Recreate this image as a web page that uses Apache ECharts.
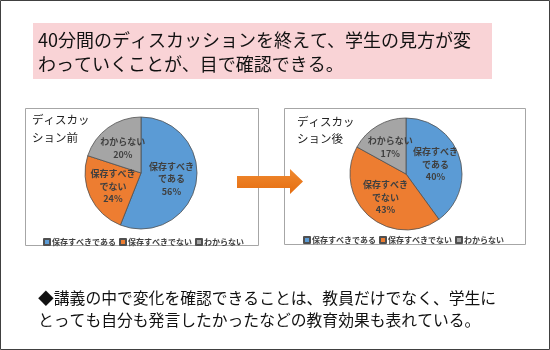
<!DOCTYPE html>
<html>
<head>
<meta charset="utf-8">
<script src="https://cdn.jsdelivr.net/npm/echarts@6/dist/echarts.min.js"></script>
<style>
html,body{margin:0;padding:0;background:#fff;}
#c{width:550px;height:350px;}
</style>
</head>
<body>
<div id="c"></div>
<script>
const categories = ['保存すべきである', '保存すべきでない', 'わからない'];
const sliceLabels = ['保存すべき\nである', '保存すべき\nでない', 'わからない'];
const beforeValues = [56, 24, 20];
const afterValues = [40, 43, 17];
const beforeTitle = 'ディスカッ\nション前';
const afterTitle = 'ディスカッ\nション後';
const headline = '40分間のディスカッションを終えて、学生の見方が変\nわっていくことが、目で確認できる。';
const footnote = '◆講義の中で変化を確認できることは、教員だけでなく、学生に\nとっても自分も発言したかったなどの教育効果も表れている。';
const colors = ['#5b9bd5', '#ed7d31', '#a5a5a5'];

const FONT = '"Noto Sans CJK JP", "Noto Sans", sans-serif';

function pieData(values) {
  return categories.map((c, i) => ({ name: c, value: values[i] }));
}

function pieSeries(values, center) {
  return {
    type: 'pie',
    center: center,
    radius: 56,
    startAngle: 90,
    clockwise: true,
    data: pieData(values),
    itemStyle: { borderColor: '#505050', borderWidth: 0.8 },
    label: {
      show: true,
      position: 'inside',
      fontFamily: FONT,
      fontSize: 9,
      fontWeight: 'bold',
      color: '#404040',
      lineHeight: 12.5,
      formatter: function (p) {
        return sliceLabels[p.dataIndex] + '\n' + p.value + '%';
      }
    },
    labelLine: { show: false },
    emphasis: { disabled: true },
    animation: false
  };
}

function legend(left, top) {
  return {
    data: categories,
    left: left,
    top: top,
    orient: 'horizontal',
    icon: 'rect',
    itemWidth: 6,
    itemHeight: 6,
    itemGap: 3,
    padding: 0,
    textStyle: { fontFamily: FONT, fontSize: 8, fontWeight: 'bold', color: '#404040', padding: [0, 0, 0, -3] },
    selectedMode: false
  };
}

const chart = echarts.init(document.getElementById('c'), null, { renderer: 'canvas' });
chart.setOption({
  animation: false,
  color: colors,
  legend: [legend(43, 238), legend(303, 236)],
  series: [
    pieSeries(beforeValues, [141, 173]),
    pieSeries(afterValues, [406, 174])
  ],
  graphic: [
    { type: 'rect', z: -10, shape: { x: 0.5, y: 0.5, width: 549, height: 349 }, style: { fill: '#fff', stroke: '#404040', lineWidth: 1 } },
    { type: 'rect', z: -9, shape: { x: 33, y: 23, width: 459, height: 56 }, style: { fill: '#f9d3d6', stroke: null } },
    { type: 'text', z: 10, left: 38, top: 28, style: { text: headline, font: '18px ' + FONT, fill: '#111', lineHeight: 24 } },
    { type: 'rect', z: -9, shape: { x: 25.5, y: 108.5, width: 233, height: 137 }, style: { fill: '#fff', stroke: '#a6a6a6', lineWidth: 1 } },
    { type: 'rect', z: -9, shape: { x: 284.5, y: 108.5, width: 241, height: 136 }, style: { fill: '#fff', stroke: '#a6a6a6', lineWidth: 1 } },
    { type: 'text', z: 10, left: 32, top: 111, style: { text: beforeTitle, font: '11.5px ' + FONT, fill: '#222', lineHeight: 18 } },
    { type: 'text', z: 10, left: 297, top: 113, style: { text: afterTitle, font: '11.5px ' + FONT, fill: '#222', lineHeight: 17 } },
    { type: 'polygon', z: 100, shape: { points: [[237, 176], [290, 176], [290, 169], [303, 181.5], [290, 194], [290, 188], [237, 188]] },
      style: { fill: new echarts.graphic.LinearGradient(0, 0, 0, 1, [{ offset: 0, color: '#f08a30' }, { offset: 1, color: '#e56d10' }]) } },
    { type: 'text', z: 10, left: 38, top: 287, style: { text: footnote, font: '15.8px ' + FONT, fill: '#111', lineHeight: 22 } }
  ]
});
</script>
</body>
</html>
